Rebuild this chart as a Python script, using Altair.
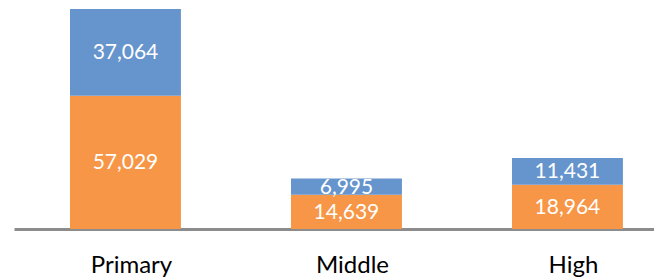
import altair as alt
import pandas as pd

categories = ["Primary", "Middle", "High"]
series = ["Series 1", "Series 2"]
series1_values = [57029, 14639, 18964]   # orange, bottom segment
series2_values = [37064, 6995, 11431]    # blue, top segment
colors = ["#F79646", "#6694CC"]

rows = []
for i, c in enumerate(categories):
    rows.append({"cat": c, "series": series[0], "value": series1_values[i], "order": 0})
    rows.append({"cat": c, "series": series[1], "value": series2_values[i], "order": 1})
df = pd.DataFrame(rows)

ymax = max(a + b for a, b in zip(series1_values, series2_values))

x = alt.X(
    "cat:N",
    sort=categories,
    title=None,
    scale=alt.Scale(paddingInner=0.498, paddingOuter=0.197, align=0.643),
    axis=alt.Axis(
        labelAngle=0,
        ticks=False,
        tickSize=0,
        labelPadding=43,
        labelBaseline="alphabetic",
        labelFont="Lato",
        labelFontSize=24,
        labelColor="#000000",
        labelOffset=6,
        domainColor="#8C8C8C",
        domainWidth=3,
        grid=False,
    ),
)

base = (
    alt.Chart(df)
    .transform_stack(
        stack="value",
        groupby=["cat"],
        as_=["y0", "y1"],
        sort=[alt.SortField("order", order="ascending")],
    )
    .transform_calculate(mid="(datum.y0 + datum.y1) / 2")
)

yscale = alt.Scale(domain=[0, ymax], nice=False, zero=True)

bars = base.mark_bar().encode(
    x=x,
    y=alt.Y("y0:Q", scale=yscale, axis=None),
    y2="y1:Q",
    color=alt.Color("series:N", scale=alt.Scale(domain=series, range=colors), legend=None),
)

labels = base.mark_text(color="white", font="Lato", fontSize=21, dy=1).encode(
    x=x,
    y=alt.Y("mid:Q", scale=yscale, axis=None),
    text=alt.Text("value:Q", format=","),
)

chart = (
    (bars + labels)
    .properties(
        width=640,
        height=220,
        padding={"left": 6, "top": 1, "right": 0, "bottom": 0},
    )
    .configure_view(stroke=None)
)

chart.save("out.html", embed_options={"renderer": "svg", "actions": False})
